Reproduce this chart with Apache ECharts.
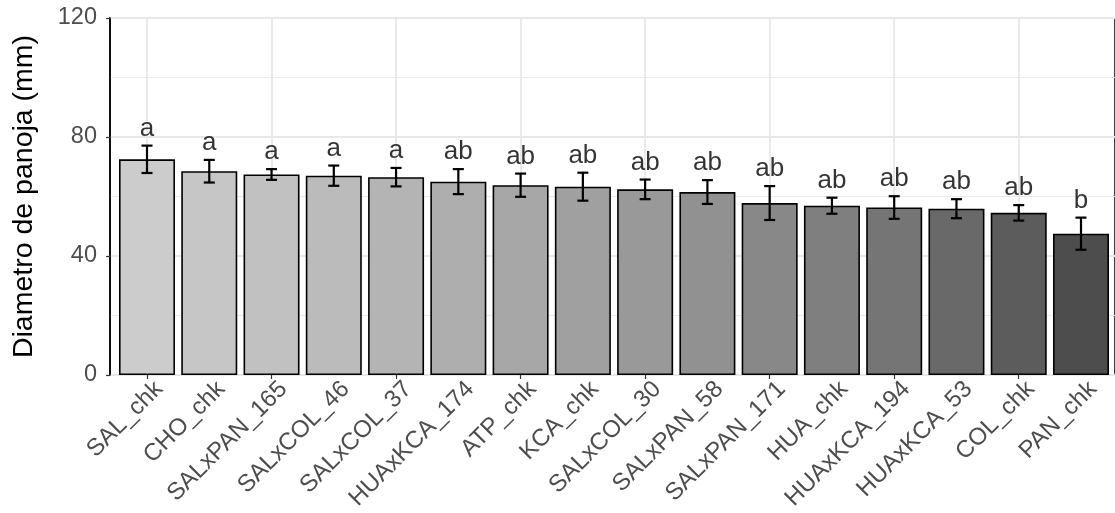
<!DOCTYPE html>
<html>
<head>
<meta charset="utf-8">
<script src="https://cdn.jsdelivr.net/npm/echarts@6/dist/echarts.min.js"></script>
<style>
html,body{margin:0;padding:0;background:#fff;}
#chart{width:1115px;height:513px;}
</style>
</head>
<body>
<div id="chart"></div>
<script>
// ---- data ----
var categories = ['SAL_chk','CHO_chk','SALxPAN_165','SALxCOL_46','SALxCOL_37','HUAxKCA_174','ATP_chk','KCA_chk','SALxCOL_30','SALxPAN_58','SALxPAN_171','HUA_chk','HUAxKCA_194','HUAxKCA_53','COL_chk','PAN_chk'];
var means = [72.5, 68.5, 67.4, 67.0, 66.5, 65.0, 63.8, 63.3, 62.4, 61.5, 57.8, 56.9, 56.3, 55.9, 54.5, 47.5];
var errs = [4.6, 3.8, 1.8, 3.4, 3.1, 4.2, 3.9, 4.7, 3.3, 4.0, 5.7, 2.7, 3.8, 3.2, 2.6, 5.4];
var letters = ['a','a','a','a','a','ab','ab','ab','ab','ab','ab','ab','ab','ab','ab','b'];
var yTicks = [0, 40, 80, 120];

// ---- styles ----
var fills = ['#CCCCCC','#C6C6C6','#C1C1C1','#BBBBBB','#B4B4B4','#AEAEAE','#A7A7A7','#A0A0A0','#999999','#919191','#888888','#7F7F7F','#757575','#696969','#5C5C5C','#4D4D4D'];
var FONT = 'Liberation Sans, Arial, Helvetica, sans-serif';
var TOP = 18, BOTTOM = 138;
var C_LEFT = 147, C_RIGHT = 34;
var LBL_DX = 12;

var chart = echarts.init(document.getElementById('chart'), null, {renderer: 'canvas'});

var option = {
  animation: false,
  backgroundColor: '#fff',
  textStyle: {fontFamily: FONT},
  grid: [
    {left: 110, top: TOP, width: 1010, bottom: BOTTOM, show: true, borderColor: '#000', borderWidth: 1.5, backgroundColor: 'transparent'},
    {left: C_LEFT, right: C_RIGHT, top: TOP, bottom: BOTTOM},
    {left: C_LEFT + LBL_DX, right: C_RIGHT - LBL_DX, top: TOP, bottom: BOTTOM}
  ],
  xAxis: [
    {gridIndex: 0, type: 'value', min: 0, max: 1, show: false},
    {gridIndex: 1, type: 'category', data: categories, boundaryGap: false,
      axisLine: {show: false},
      axisTick: {show: true, length: 4, lineStyle: {color: '#333', width: 1.2}},
      axisLabel: {show: false},
      splitLine: {show: true, lineStyle: {color: '#E8E8E8', width: 1.8}}
    },
    {gridIndex: 2, type: 'category', data: categories, boundaryGap: false,
      axisLine: {show: false}, axisTick: {show: false}, splitLine: {show: false},
      axisLabel: {show: true, interval: 0, rotate: 45, margin: 22, fontSize: 24, color: '#4D4D4D', fontFamily: FONT}
    }
  ],
  yAxis: [
    {gridIndex: 0, type: 'value', min: yTicks[0], max: yTicks[yTicks.length-1], interval: 40,
      name: 'Diametro de panoja (mm)', nameLocation: 'middle', nameGap: 71,
      nameTextStyle: {fontSize: 28.5, color: '#000', fontFamily: FONT},
      axisLine: {show: true, lineStyle: {color: '#000', width: 1.5}},
      axisTick: {show: true, length: 4, lineStyle: {color: '#333', width: 1.2}},
      axisLabel: {margin: 13, fontSize: 23.5, color: '#4D4D4D', fontFamily: FONT},
      splitLine: {show: true, lineStyle: {color: '#E8E8E8', width: 1.8}},
      minorTick: {show: false, splitNumber: 2},
      minorSplitLine: {show: true, lineStyle: {color: '#EBEBEB', width: 1.2}}
    },
    {gridIndex: 1, type: 'value', min: 0, max: 120, show: false},
    {gridIndex: 2, type: 'value', min: 0, max: 120, show: false}
  ],
  series: [
    {
      type: 'bar', xAxisIndex: 1, yAxisIndex: 1, barWidth: 56, clip: false,
      data: means.map(function (v, i) {
        return {value: v, itemStyle: {color: fills[i]}};
      }),
      itemStyle: {borderColor: '#000', borderWidth: 1.6},
      z: 2
    },
    {
      type: 'custom', xAxisIndex: 1, yAxisIndex: 1, clip: false, z: 3,
      data: means.map(function (v, i) { return [i, v - errs[i], v + errs[i]]; }),
      renderItem: function (params, api) {
        var lo = api.coord([api.value(0), api.value(1)]);
        var hi = api.coord([api.value(0), api.value(2)]);
        var hw = 5.5;
        var st = {stroke: '#000', lineWidth: 2.2};
        return {
          type: 'group',
          children: [
            {type: 'line', shape: {x1: lo[0], y1: lo[1], x2: hi[0], y2: hi[1]}, style: st},
            {type: 'line', shape: {x1: hi[0]-hw, y1: hi[1], x2: hi[0]+hw, y2: hi[1]}, style: st},
            {type: 'line', shape: {x1: lo[0]-hw, y1: lo[1], x2: lo[0]+hw, y2: lo[1]}, style: st}
          ]
        };
      }
    },
    {
      type: 'scatter', xAxisIndex: 1, yAxisIndex: 1, symbolSize: 0, clip: false, z: 4,
      silent: true,
      data: means.map(function (v, i) { return [i, v + errs[i]]; }),
      label: {
        show: true, position: 'top', distance: 4,
        fontSize: 26, color: '#000', fontFamily: FONT,
        formatter: function (p) { return letters[p.dataIndex]; }
      }
    }
  ]
};
chart.setOption(option);
</script>
</body>
</html>
